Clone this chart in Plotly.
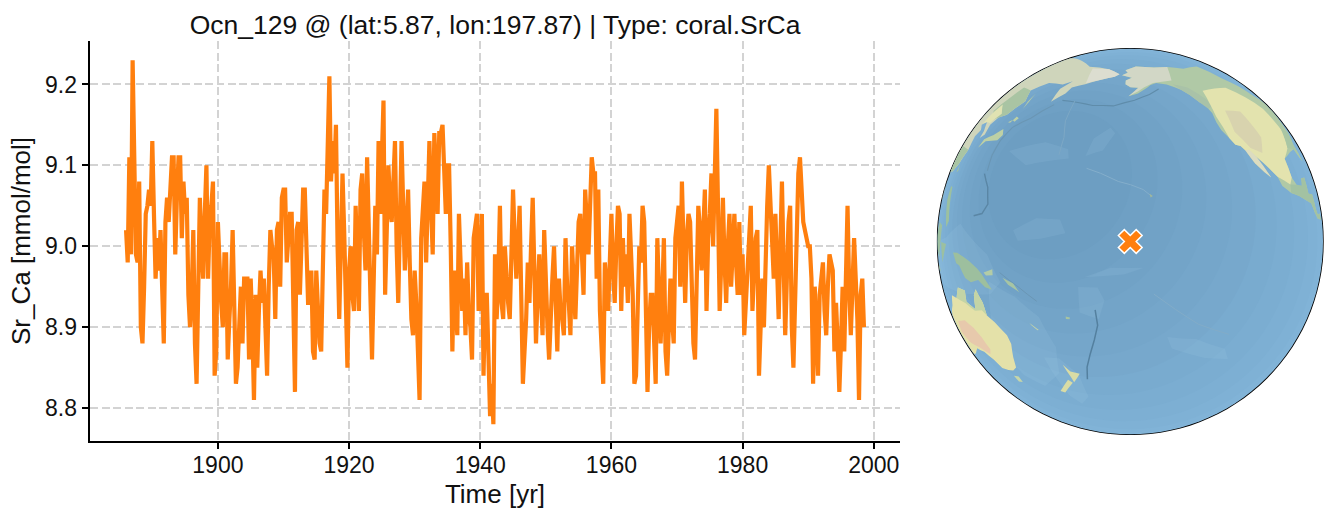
import math
import plotly.graph_objects as go

TITLE = "Ocn_129 @ (lat:5.87, lon:197.87) | Type: coral.SrCa"
SITE_LAT = 5.87
SITE_LON = 197.87
START_YEAR = 1886.0
STEP_YEARS = 0.25
x_ticks = [1900, 1920, 1940, 1960, 1980, 2000]
y_ticks = [8.8, 8.9, 9.0, 9.1, 9.2]

srca = [
 9.02,8.98,9.11,8.99,9.23,9.13,8.99,8.98,9.08,8.90,
 8.88,8.95,9.04,9.05,9.07,9.05,9.13,9.04,8.96,9.01,
 8.97,9.02,8.95,8.88,9.03,9.06,9.03,9.07,9.11,9.11,
 8.99,9.06,9.11,9.11,9.01,9.08,9.04,9.06,8.94,8.90,
 8.94,9.02,8.88,8.83,8.94,9.06,9.00,8.96,9.04,9.10,
 8.96,9.03,9.05,9.08,8.84,8.87,9.03,8.96,8.93,8.90,
 8.99,8.99,8.86,8.91,8.95,9.02,8.93,8.83,8.85,8.90,
 8.95,8.88,8.96,8.96,8.96,8.86,8.96,8.90,8.81,8.94,
 8.85,8.92,8.97,8.93,8.96,8.90,8.84,8.95,9.02,9.00,
 8.99,8.91,9.02,9.03,8.95,9.06,9.07,9.07,8.98,9.01,
 9.04,9.04,8.90,8.82,9.02,9.03,8.94,9.00,9.07,9.07,
 9.00,8.93,8.93,8.97,8.87,8.86,8.97,8.92,8.88,8.87,
 9.01,9.07,9.04,9.13,9.21,9.08,9.13,9.09,9.15,9.00,
 8.91,9.00,9.09,9.02,8.95,8.85,8.97,9.00,8.94,8.92,
 9.05,8.98,8.92,9.07,9.09,9.02,8.97,9.11,9.00,8.94,
 8.86,8.95,9.05,8.99,9.13,9.04,9.11,9.18,8.94,9.02,
 9.10,9.05,9.03,9.08,9.13,9.00,8.93,9.03,9.13,9.05,
 8.97,9.02,9.07,8.98,8.91,8.89,8.97,8.93,8.87,8.81,
 9.01,9.04,9.08,8.98,9.05,9.13,9.05,8.99,9.14,9.08,
 9.04,9.14,9.14,9.15,9.07,9.04,9.10,9.10,9.00,8.87,
 8.97,8.93,8.89,9.04,8.98,8.92,8.96,8.89,8.98,8.92,
 8.90,8.86,9.01,9.03,9.04,8.92,8.98,9.04,8.84,8.94,
 8.94,8.88,8.79,8.83,8.78,8.99,8.91,8.96,9.05,8.93,
 8.91,9.00,8.96,8.93,8.91,8.99,9.07,9.01,8.96,9.00,
 9.05,8.94,8.83,8.87,8.91,8.98,8.93,9.00,9.06,8.97,
 8.88,8.94,8.99,8.94,8.89,9.02,8.94,8.90,8.86,8.92,
 8.96,9.00,8.94,8.87,8.96,8.92,8.91,8.89,9.01,8.95,
 8.93,8.89,9.00,8.95,8.91,8.97,9.03,9.04,8.98,8.94,
 9.07,9.03,8.99,9.05,9.11,9.09,9.09,8.96,9.07,8.92,
 8.87,8.83,8.98,8.95,8.92,8.98,9.04,8.97,8.93,9.00,
 9.05,9.04,8.92,9.01,8.95,8.99,8.93,9.04,9.00,8.94,
 8.83,8.84,8.92,9.00,8.98,9.05,9.03,8.95,8.82,8.90,
 8.94,8.94,8.88,8.83,9.01,8.95,8.88,8.94,9.01,8.87,
 8.84,8.90,8.96,8.91,8.88,9.01,9.03,9.05,8.95,9.08,
 9.00,8.93,9.01,9.04,9.03,8.95,8.88,8.86,8.95,9.05,
 9.02,8.97,9.02,9.07,8.92,9.01,9.04,9.09,9.00,9.08,
 9.17,9.05,8.92,8.98,9.06,8.98,8.93,9.00,9.04,8.95,
 9.00,9.04,8.98,8.94,9.03,8.94,8.99,8.89,8.93,8.97,
 9.02,9.05,8.92,8.97,9.01,9.02,8.84,8.90,8.96,8.90,
 8.99,9.05,9.10,9.05,9.00,8.96,9.04,8.98,8.91,9.00,
 9.08,8.98,8.89,8.96,9.03,9.05,8.90,8.85,8.95,9.00,
 9.09,9.11,9.07,9.03,9.02,9.01,9.00,9.00,8.96,8.83,
 8.95,8.90,8.84,8.94,8.96,8.98,8.92,8.89,8.95,8.99,
 8.98,8.97,8.87,8.93,8.88,8.82,8.88,8.95,8.87,9.00,
 9.05,8.95,8.89,8.95,9.01,8.96,8.91,8.81,8.94,8.96,
 8.90,
]
years = [START_YEAR + i * STEP_YEARS for i in range(len(srca))]

# Ocean shading: (lat, lon, angular radius, colour)
ocean_caps = [
 (5.87, 197.87, 89.9, "#83b5d9"),
 (6, 197, 84, "#81b3d7"),
 (7, 196, 78, "#7fb1d5"),
 (9, 193, 72, "#7dafd3"),
 (11, 190, 66, "#7badd1"),
 (13, 187, 60, "#79abcf"),
 (15, 184, 54, "#77a8cc"),
 (17, 181, 48, "#75a6ca"),
 (19, 178, 42, "#73a4c8"),
 (21, 176, 36, "#71a2c6"),
 (23, 174, 30, "#6fa0c4"),
 (24, 172, 24, "#6d9ec2"),
]
# Lighter shelves and shoals: (lon list, lat list)
shelf_color = "rgba(170,210,235,0.12)"
shelves = [
 ([150,160,168,172,170,160,152,146], [-8,-12,-18,-28,-38,-44,-40,-28]),
 ([112,125,135,150,155,150,135,118,108], [0,3,8,0,-8,-12,-13,-12,-6]),
 ([166,172,178,179,174,170], [-32,-32,-38,-48,-52,-48]),
 ([-178,-172,-170,-172,-178], [-8,-8,-12,-18,-16]),
 ([160,168,176,178,170,162], [8,12,12,8,6,5]),
 ([-150,-140,-128,-125,-135,-148], [-24,-25,-29,-33,-32,-28]),
 ([150,165,175,176,160], [32,36,34,31,28]),
 ([-176,-170,-168,-172,-178], [38,42,40,34,32]),
 ([-176,-164,-158,-168], [-5,-4,-2,-2]),
]
# Trenches and island chains: (colour, width, lon list, lat list)
lines_sea = [
 ("#5f8caa", 1.2, [163,172,180,-170,-160,-152,-146], [52,51.5,50.5,50.5,53,55.5,58]),
 ("#6a96b4", 1.1, [160,152,145,142.5,142,143], [50,44,40,35,30,25]),
 ("#5a86a5", 1.4, [142,146,148,146,142], [24,20,15,12,11]),
 ("#54809f", 1.5, [-173,-172.5,-174,-176,-178,-179], [-15,-20,-25,-30,-35,-40]),
 ("#6a96b4", 1.0, [155,162,168], [-5,-9,-13]),
 ("#84aecb", 1.0, [-177,-172,-166,-162,-158,-155.5], [28,26.5,24,23,21.5,19.5]),
 ("#7da8c5", 1.0, [170,170,172,172], [52,44,38,32]),
 ("#82acc8", 1.0, [-155,-148,-140,-128], [-10,-15,-20,-24]),
]
# Land: (colour, lon list, lat list)
land = [
 ("#b0c9a6", [-168,-164,-166,-157,-141,-128,-115,-95,-90,-78,-68,-76,-81,-80,-82,-84,-90,-97,-97.5,-95,-91,-90.5,-87,-88,-84,-83.5,-82,-78,-77,-80,-83,-85.5,-87.5,-92,-96,-101,-105,-106,-109,-112.5,-114.7,-112,-110,-109.5,-112,-115,-116,-117.1,-118.5,-120.6,-122,-124,-124.5,-124,-124.7,-123,-127,-130,-133,-136,-140,-146,-150,-152,-154,-158,-163,-160,-157.5,-162,-165,-165,-161],
  [65.5,67,68.5,71,70,70,68,68,60,50,45,35,31,25.5,27,30,29.5,28,22,18.5,18.5,21,21,16,15.5,11,9,9,7,7.5,8,10,13,14.5,16,17.5,20,23,26,29.5,31.5,27.5,24,23,25,28,30,32.5,34,34.6,37,40,43,46.5,48.4,49,51,54.5,57,58.5,60,61,60,59,58,56,54.8,57,58.7,59,60.5,62.5,64]),
 ("#d2d7c6", [-168,-164,-166,-157,-141,-128,-135,-142,-148,-154,-158,-163,-160,-157.5,-162,-165,-165,-161],
  [65.5,67,68.5,71,70,70,62,61.5,61,59,57,54.8,57,58.7,59,60.5,62.5,64]),
 ("#a9c2a8", [-136,-128,-122,-122,-124.7,-127,-130,-133], [60,58,52,49,48.4,51,54.5,57]),
 ("#e3e3ae", [-120,-100,-85,-84,-90,-97,-97.5,-100,-106,-109,-112.5,-114.7,-117.1,-118.5,-120.6,-122,-123,-122],
  [56,56,45,36,31,28,22,20,23,26,29.5,31.5,32.5,34,34.6,37,45,50]),
 ("#d8d3ae", [-116,-107,-105,-109,-114,-118], [47,46,36,31,33,39]),
 ("#a9c6a4", [-84,-76,-81,-80,-82,-84,-90], [37,35,31,25.5,27,30,31]),
 ("#a3c2a2", [-100,-92,-90.5,-87,-88,-84,-83.5,-82,-78,-77,-80,-83,-85.5,-87.5,-92,-96,-101], [20,19,21,21,16,15.5,11,9,9,7,7.5,8,10,13,14.5,16,17.5]),
 ("#dcdcc0", [-115,-113,-110,-109.5,-112,-115,-116,-117.1], [32.5,30,24,23,25,28,30,32.5]),
 ("#cfd5bb", [100,140,160,180,-170,-173,178,170,163,162,157,156,160,155,143,135,140,135,130,127.5,129,126.5,126,122,118,122,120,122,119,114,109,106,109,107,104.5,101,100,103,104,100,98,90,80,70,60],
  [72,73,70,69,66,64.5,62.5,60,58,55,51,57,61,59,59,54.5,50,44,42.5,39.5,36,34.5,37,40,38.5,37,34.5,30,25,22,21.5,19,14,10,9.5,13,9,4,1.5,4,8,20,10,20,60]),
 ("#dcddd0", [165,180,-170,-173,178,170], [69,69,66,64.5,62.5,60.5]),
 ("#a9c4a3", [135,140,135,130,126,118,122,124], [54.5,50,44,42.5,41,44,50,55]),
 ("#e0e2b2", [122,130,128,126,122,118,120], [47,44,42,40,40,39,44]),
 ("#a9c5a4", [122,120,119,114,109,106,109,107,104.5,101,100,103,104,100,98,96,110], [30,27,25,22,21.5,19,14,10,9.5,13,9,4,1.5,4,8,22,30]),
 ("#bdd0a5", [141.5,143,145,144,142,140,140], [41.5,44,43.5,42,42.5,41.5,41.5]),
 ("#bdd0a5", [131,136,140,142,140.5,137,133,130], [34.5,36.5,39,37,35,34.5,34,31.5]),
 ("#b6cca5", [142,143,143,142], [54,50,47,50]),
 ("#a3c2a2", [121,122,120.5], [25,23,22.5]),
 ("#9cc0a0", [120,122,126,124,122,120], [18,18,8,6,10,14]),
 ("#9cc0a0", [109,114,119,118,115,110], [2,6.5,6,1,-4,-2]),
 ("#9cc0a0", [119,125,122,120], [1,1,-3,-5]),
 ("#9cc0a0", [95,100,104,106,102,97], [5.5,2.5,-1,-5.5,-4,1]),
 ("#a3c4a1", [106,114,114,106], [-6,-7,-8.5,-7.5]),
 ("#9dbf9e", [131,134,138,141,145,147,151,148,145,141,138,135,133], [-1,-0.8,-1.7,-2.6,-4.5,-6,-10.5,-10,-8,-9,-8,-4.5,-4]),
 ("#b3cca6", [148,152,152,149], [-5.5,-4.2,-6,-6.3]),
 ("#a7c5a3", [156,160,162,158], [-6.5,-8,-10.5,-8.5]),
 ("#e4e1a9", [114,113.5,115,115,118,123,129,134,138,140.5,144,147,150,151.5,153.5,153,149,146,145.5,143,141.5,140.5,136,136.5,132,129,125,122,117],
  [-22,-26,-31,-34.5,-35,-34,-31.7,-32.5,-35,-38,-38.5,-38.5,-37,-33,-28,-25,-21,-19,-15,-11,-13,-17.5,-15.5,-12,-11.5,-15,-14.5,-18,-20.5]),
 ("#e7c9ac", [122,130,135,138,140,138,132,125,119], [-23,-22,-24,-27,-31,-33,-31,-30,-27]),
 ("#c3d4a6", [132,136.5,136,140.5,141.5,143,145.5,146,144,140,135,129], [-11.5,-12,-15.5,-17.5,-13,-11,-15,-19,-17.5,-18,-16,-15]),
 ("#c6d6a9", [145,148,148,145.5], [-40.8,-40.8,-43.2,-43.2]),
 ("#d9dca5", [172.7,175,178.5,177,175,174.5], [-34.5,-37,-37.8,-39.5,-41.5,-39.5]),
 ("#d9dca5", [172.7,174.3,171,168.5,166.5,170], [-40.6,-41.8,-44.5,-46.6,-46,-43]),
 ("#c9d7a4", [164,167,166.5,164.5], [-20.2,-22.3,-22.4,-20.8]),
 ("#a8c4a0", [177.3,178.7,178.5,177.3], [-17.4,-17.7,-18.3,-18.2]),
 ("#a1b89c", [-156,-155,-155.7], [20.2,19.5,19]),
]

site_color = "#ff7f0e"


def clockwise(lons, lats):
    unwrapped = [lons[0]]
    for lon in lons[1:]:
        d = (lon - unwrapped[-1] + 180) % 360 - 180
        unwrapped.append(unwrapped[-1] + d)
    area = 0.0
    n = len(lons)
    for i in range(n):
        j = (i + 1) % n
        area += unwrapped[i] * lats[j] - unwrapped[j] * lats[i]
    if area > 0:
        return lons[::-1], lats[::-1]
    return lons, lats


def cap(lat0, lon0, radius):
    a = math.radians(radius)
    p = math.radians(lat0)
    lons, lats = [], []
    for b in range(0, 360, 3):
        t = math.radians(b)
        q = math.asin(math.sin(p) * math.cos(a) + math.cos(p) * math.sin(a) * math.cos(t))
        l = math.radians(lon0) + math.atan2(math.sin(t) * math.sin(a) * math.cos(p),
                                            math.cos(a) - math.sin(p) * math.sin(q))
        lons.append(math.degrees(l))
        lats.append(math.degrees(q))
    return lons + lons[:1], lats + lats[:1]


fig = go.Figure()
fig.add_trace(go.Scatter(x=years, y=srca, mode="lines",
                         line=dict(color=site_color, width=4.2),
                         showlegend=False))


def poly(lons, lats, color):
    fig.add_trace(go.Scattergeo(lon=lons, lat=lats, mode="lines", fill="toself",
                                fillcolor=color, line=dict(width=0, color=color),
                                hoverinfo="skip", showlegend=False))


for lat0, lon0, r, col in ocean_caps:
    lo, la = cap(lat0, lon0, r)
    poly(lo, la, col)
for lo, la in shelves:
    lo, la = clockwise(lo, la)
    poly(lo + lo[:1], la + la[:1], shelf_color)
for col, w, lo, la in lines_sea:
    fig.add_trace(go.Scattergeo(lon=lo, lat=la, mode="lines", line=dict(width=w, color=col),
                                hoverinfo="skip", showlegend=False))
for col, lo, la in land:
    lo, la = clockwise(lo, la)
    poly(lo + lo[:1], la + la[:1], col)
fig.add_trace(go.Scattergeo(lon=[SITE_LON], lat=[SITE_LAT], mode="markers",
                            marker=dict(symbol="x", size=21, color=site_color,
                                        line=dict(color="white", width=1.5)),
                            showlegend=False))

W, H = 1328, 509
grid = dict(showgrid=True, gridcolor="#d3d3d3", gridwidth=1.6, griddash="8px,3.5px")
tick = dict(ticks="outside", ticklen=6.5, tickwidth=1.7, tickcolor="black", showline=True,
            linecolor="black", linewidth=1.7, zeroline=False, tickfont=dict(size=23, color="#111"))
fig.update_layout(
    width=W, height=H, autosize=False,
    paper_bgcolor="white", plot_bgcolor="white",
    margin=dict(l=0, r=0, t=0, b=0), showlegend=False,
    font=dict(family="Liberation Sans, Arial, sans-serif", color="#111", size=23),
    title=dict(text=TITLE, font=dict(size=26.5, color="#111"), x=495 / W, xanchor="center",
               y=1 - 25 / H, yanchor="middle"),
    xaxis=dict(domain=[90 / W, 900 / W], range=[1880.5, 2004], tickvals=x_ticks,
               ticklabelstandoff=-4,
               title=dict(text="Time [yr]", font=dict(size=26), standoff=13), **grid, **tick),
    yaxis=dict(domain=[1 - 441 / H, 1 - 41 / H], range=[8.7593, 9.2537], tickvals=y_ticks,
               tickformat=".1f",
               title=dict(text="Sr_Ca [mmol/mol]", font=dict(size=26), standoff=7), **grid, **tick),
    geo=dict(domain=dict(x=[937.5 / W, 1323 / W], y=[1 - 434.5 / H, 1 - 48.5 / H]),
             projection=dict(type="orthographic", rotation=dict(lon=SITE_LON - 360, lat=SITE_LAT)),
             showland=False, showocean=False, showcoastlines=False, showlakes=False,
             showrivers=False, showcountries=False, showsubunits=False,
             showframe=True, framecolor="black", framewidth=1.7, bgcolor="rgba(0,0,0,0)"),
)
fig.write_html("out.html", config={"displayModeBar": False},
               post_script="document.body.style.margin='0';")
